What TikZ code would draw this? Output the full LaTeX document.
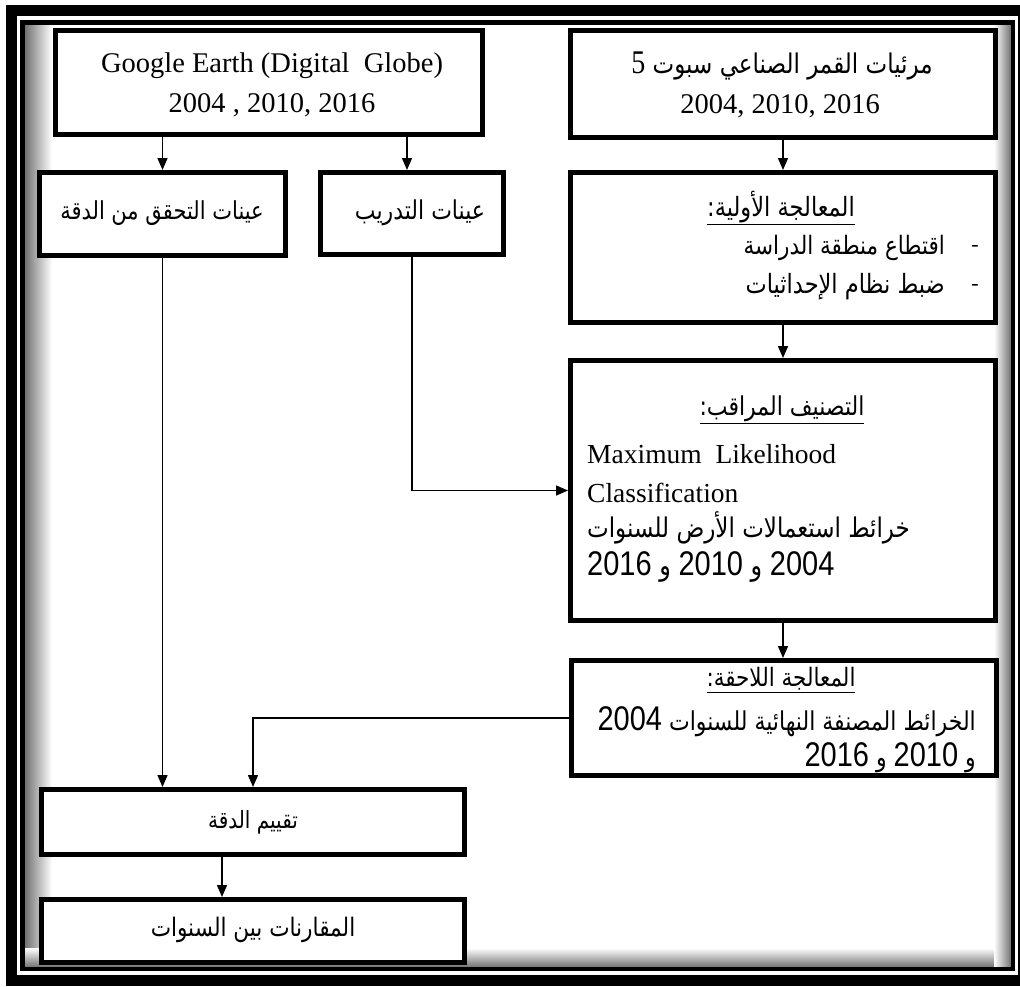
\documentclass[tikz,border=0pt]{standalone}
\usepackage{fontspec}
\setmainfont{Liberation Serif}
\newfontfamily\arabicfont[Script=Arabic]{DejaVu Sans}
\newfontfamily\latsans{Liberation Sans}
\TeXXeTstate=1
\usetikzlibrary{arrows.meta}
\newcommand{\artxt}[1]{\scalebox{1}[1.18]{\arabicfont\beginR #1\endR}}
\newcommand{\dg}[1]{{\latsans\fontsize{29}{30}\selectfont #1}}
\tikzset{
  box/.style={draw, fill=white, line width=5pt, inner sep=0pt},
  arr/.style={line width=1.5pt, -{Triangle[length=12pt,width=10pt]}},
  lat/.style={inner sep=0pt, font=\fontsize{28.5}{30}\selectfont},
  ara/.style={inner sep=0pt, font=\fontsize{#1}{26}\selectfont},
  ara/.default=22,
}
\begin{document}
\begin{tikzpicture}[x=1pt,y=-1pt]
\useasboundingbox (0,0) rectangle (1020,986);
% frame
\shade[left color=black!55, right color=white] (25,25) rectangle (52,967);
\shade[top color=white, bottom color=black!55] (25,948) rectangle (1011,967);
\shade[left color=white, right color=black!55] (994,25) rectangle (1011,967);
\draw[line width=4.5pt] (22.5,22.5) rectangle (1013,969);
\draw[line width=11pt] (11,10.5) rectangle (1023,980.5);
% boxes
\node[box, minimum width=427pt, minimum height=104pt] (google) at (269,82.5) {};
\node[box, minimum width=425pt, minimum height=107pt] (sat) at (783,84) {};
\node[box, minimum width=246pt, minimum height=83pt] (valid) at (162.5,214) {};
\node[box, minimum width=183pt, minimum height=82pt] (train) at (412,213.5) {};
\node[box, minimum width=425pt, minimum height=150pt] (pre) at (783,247.5) {};
\node[box, minimum width=425pt, minimum height=260pt] (cls) at (783,490.5) {};
\node[box, minimum width=425pt, minimum height=115pt] (post) at (784,718) {};
\node[box, minimum width=423pt, minimum height=65pt] (acc) at (253,822) {};
\node[box, minimum width=423pt, minimum height=63pt] (cmp) at (253,931) {};
% texts
\node[lat, anchor=base] (g1) at (272,72) {Google Earth (Digital\ \ Globe)};
\node[lat, anchor=base] (g2) at (272,112) {2004 , 2010, 2016};
\node[ara=23] (s1) at (782,66) {\artxt{مرئيات القمر الصناعي سبوت {\rmfamily\fontsize{28}{30}\selectfont 5}}};
\node[lat, anchor=base] (s2) at (780,113) {2004, 2010, 2016};
\node[ara=21] (v1) at (162,213) {\artxt{عينات التحقق من الدقة}};
\node[ara=22] (t1) at (420,213) {\artxt{عينات التدريب}};
\node[ara=22.5] (p0) at (781,208) {\underline{\artxt{المعالجة الأولية:}}};
\node[ara=21.5, anchor=east] (p1) at (945,248) {\artxt{اقتطاع منطقة الدراسة}};
\node[ara=22.5, anchor=east] (p2) at (945,287) {\artxt{ضبط نظام الإحداثيات}};
\node[ara] (p1d) at (975,248) {-};
\node[ara] (p2d) at (975,287) {-};
\node[ara=22] (c0) at (782,410) {\underline{\artxt{التصنيف المراقب:}}};
\node[lat, anchor=base west, font=\fontsize{27.5}{30}\selectfont] (c1) at (587,463) {Maximum\ \ Likelihood};
\node[lat, anchor=base west, font=\fontsize{27.5}{30}\selectfont] (c2) at (587,502) {Classification};
\node[ara=23, anchor=west] (c3) at (587,528) {\artxt{خرائط استعمالات الأرض للسنوات}};
\node[ara=24, anchor=west] (c4) at (587,567) {\artxt{\dg{2004} و \dg{2010} و \dg{2016}}};
\node[ara=21.5] (q0) at (781,680) {\underline{\artxt{المعالجة اللاحقة:}}};
\node[ara=22, anchor=east] (q1) at (976,722) {\artxt{الخرائط المصنفة النهائية للسنوات \dg{2004}}};
\node[ara=22, anchor=east] (q2) at (976,758) {\artxt{و \dg{2010} و \dg{2016}}};
\node[ara=20] (a1) at (253,822) {\artxt{تقييم الدقة}};
\node[ara=21.6] (m1) at (253,930) {\artxt{المقارنات بين السنوات}};
% connectors
\draw[arr] (valid.north |- google.south) -- (valid.north);
\draw[arr] ([xshift=-5pt]train.north |- google.south) -- ([xshift=-5pt]train.north);
\draw[arr] (sat.south) -- (pre.north);
\draw[arr] (pre.south) -- (cls.north);
\draw[arr] (cls.south) -- (post.north -| cls.south);
\draw[arr] (train.south) |- (cls.west);
\draw[arr] (valid.south) -- (valid.south |- acc.north);
\draw[arr] (post.west) -| (acc.north);
\draw[arr] ([xshift=-31pt]acc.south) -- ([xshift=-31pt]cmp.north);
\end{tikzpicture}
\end{document}
